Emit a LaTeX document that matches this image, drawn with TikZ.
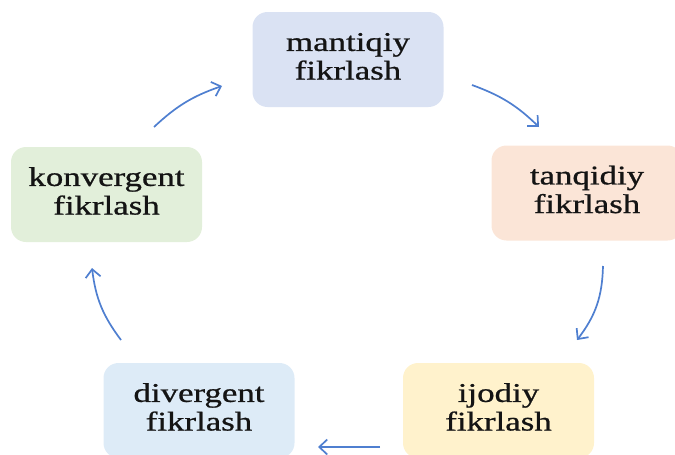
\documentclass[tikz,border=0pt]{standalone}
\usepackage{fontspec}
\setmainfont{Liberation Serif}
\newfontfamily\boxfont{Liberation Serif}[FakeBold=0.7]
\usetikzlibrary{arrows.meta}
\definecolor{cM}{HTML}{DAE2F3}
\definecolor{cT}{HTML}{FBE5D7}
\definecolor{cK}{HTML}{E2EFDA}
\definecolor{cD}{HTML}{DDEBF7}
\definecolor{cI}{HTML}{FFF2CC}
\definecolor{arr}{HTML}{4F7FD0}
\newcommand{\boxtext}[2]{\scalebox{1.34}[1.04]{\boxfont\fontsize{26}{27.5}\selectfont\begin{tabular}{@{}c@{}}#1\\#2\end{tabular}}}
\begin{document}
\begin{tikzpicture}[x=1pt,y=1pt,
  cyclebox/.style={rounded corners=15pt, minimum width=191pt, minimum height=95pt, inner sep=0pt, text=black!92},
  cyclearrow/.style={draw=arr, line width=1.7pt, -{Straight Barb[length=8pt,width=15pt,line width=1.7pt]}}]
\useasboundingbox (0,0) rectangle (675,-455);
\node[cyclebox, fill=cM] (m) at (348,-59.5) {\boxtext{mantiqiy}{fikrlash}};
\node[cyclebox, fill=cT] (t) at (587,-193) {\boxtext{tanqidiy}{fikrlash}};
\node[cyclebox, fill=cK] (k) at (106.5,-194.5) {\boxtext{konvergent}{fikrlash}};
\node[cyclebox, fill=cD] (d) at (199,-410.5) {\boxtext{divergent}{fikrlash}};
\node[cyclebox, fill=cI] (i) at (498.5,-410.5) {\boxtext{ijodiy}{fikrlash}};
\coordinate (a1s) at (472,-85);  \coordinate (a1e) at (539,-127);
\coordinate (a2s) at (603,-266); \coordinate (a2e) at (577,-340);
\coordinate (a3s) at (380,-447); \coordinate (a3e) at (318,-447);
\coordinate (a4s) at (121,-340); \coordinate (a4e) at (92,-268);
\coordinate (a5s) at (154,-127); \coordinate (a5e) at (222,-86);
\draw[cyclearrow] (a1s) to[bend left=12] (a1e);
\draw[cyclearrow] (a2s) to[bend left=18] (a2e);
\draw[cyclearrow] (a3s) to (a3e);
\draw[cyclearrow] (a4s) to[bend left=15] (a4e);
\draw[cyclearrow] (a5s) to[bend left=12] (a5e);
\end{tikzpicture}
\end{document}
